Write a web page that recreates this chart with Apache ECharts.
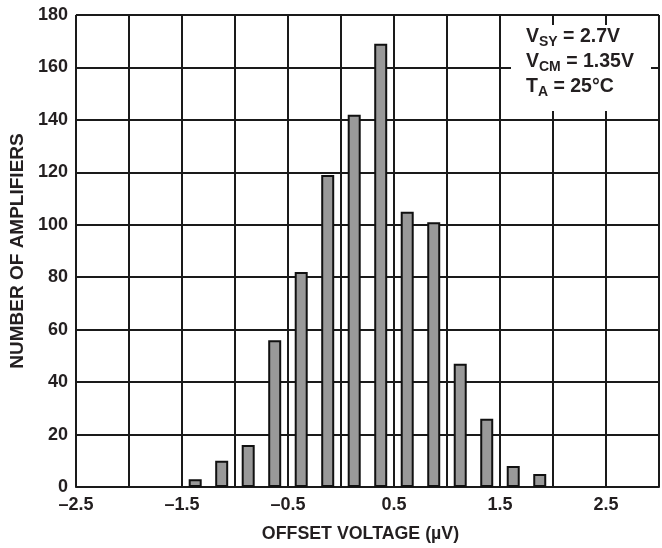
<!DOCTYPE html>
<html>
<head>
<meta charset="utf-8">
<script src="https://cdn.jsdelivr.net/npm/echarts@6/dist/echarts.min.js"></script>
<style>
  html, body { margin: 0; padding: 0; background: #fff; }
  #chart { width: 662px; height: 548px; }
</style>
</head>
<body>
<div id="chart"></div>
<script>
// Histogram bins (µV) and how many amplifiers fall in each
const binCenters = [-1.375, -1.125, -0.875, -0.625, -0.375, -0.125, 0.125, 0.375, 0.625, 0.875, 1.125, 1.375, 1.625, 1.875];
const amplifierCounts = [3, 10, 16, 56, 82, 119, 142, 169, 105, 101, 47, 26, 8, 5];

// Labelled x ticks (grid lines every 0.5, labels every 1.0)
const xLabelValues = [-2.5, -1.5, -0.5, 0.5, 1.5, 2.5];
const xLabelTexts = ['\u20132.5', '\u20131.5', '\u20130.5', '0.5', '1.5', '2.5'];

// Test conditions box
const condSymbols = ['V', 'V', 'T'];
const condSubscripts = ['SY', 'CM', 'A'];
const condValues = [' = 2.7V', ' = 1.35V', ' = 25\u00b0C'];

const ink = '#231f20';
const font = 'Liberation Sans, Arial, Helvetica, sans-serif';

const chart = echarts.init(document.getElementById('chart'), null, { renderer: 'canvas' });

const gridLine = { show: true, lineStyle: { color: '#1a1a1a', width: 2 } };

chart.setOption({
  animation: false,
  backgroundColor: '#fff',
  grid: { left: 75, top: 15, right: -4, bottom: 60, containLabel: false },
  xAxis: {
    type: 'value',
    min: -2.5,
    max: 3.0,
    interval: 0.5,
    name: 'OFFSET VOLTAGE (\u00b5V)',
    nameLocation: 'middle',
    nameGap: 38,
    nameTextStyle: { color: ink, fontFamily: font, fontWeight: 'bold', fontSize: 17.8, padding: [0, 14, 0, 0] },
    axisLine: { show: true, onZero: false, lineStyle: { color: '#1a1a1a', width: 2 } },
    axisTick: { show: false },
    splitLine: gridLine,
    axisLabel: {
      color: ink, fontFamily: font, fontWeight: 'bold', fontSize: 18, margin: 9,
      showMaxLabel: true, showMinLabel: true,
      formatter: function (v) {
        const i = xLabelValues.findIndex(function (t) { return Math.abs(t - v) < 1e-6; });
        return i >= 0 ? xLabelTexts[i] : '';
      }
    }
  },
  yAxis: {
    type: 'value',
    min: 0,
    max: 180,
    interval: 20,
    name: 'NUMBER OF AMPLIFIERS',
    nameLocation: 'middle',
    nameGap: 47,
    nameTextStyle: { color: ink, fontFamily: font, fontWeight: 'bold', fontSize: 19 },
    axisLine: { show: true, lineStyle: { color: '#1a1a1a', width: 2 } },
    axisTick: { show: false },
    splitLine: gridLine,
    axisLabel: { color: ink, fontFamily: font, fontWeight: 'bold', fontSize: 18, margin: 8 }
  },
  series: [{
    type: 'bar',
    data: binCenters.map(function (x, i) { return [x, amplifierCounts[i]]; }),
    barWidth: 13,
    itemStyle: { color: '#999999', borderColor: '#111', borderWidth: 2 },
    z: 3
  }],
  graphic: [
    {
      type: 'rect', left: 511, top: 25, z: 100,
      shape: { width: 140, height: 86 },
      style: { fill: '#fff' }
    },
    {
      type: 'text', left: 526, top: 27, z: 101,
      style: {
        text: condSymbols.map(function (s, i) {
          return '{m|' + s + '}{s|' + condSubscripts[i] + '}{m|' + condValues[i] + '}';
        }).join('\n'),
        rich: {
          m: { fontFamily: font, fontWeight: 'bold', fontSize: 19.5, lineHeight: 25, fill: ink, color: ink },
          s: { fontFamily: font, fontWeight: 'bold', fontSize: 14, lineHeight: 15, verticalAlign: 'bottom', fill: ink, color: ink }
        }
      }
    }
  ]
});
</script>
</body>
</html>
